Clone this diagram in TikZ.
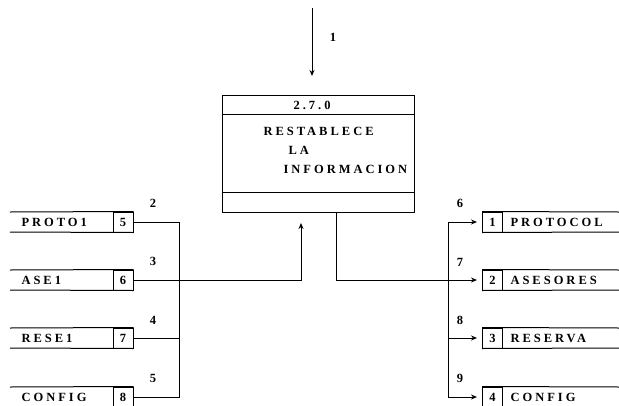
\documentclass[tikz,border=0pt]{standalone}
\usepackage{fontspec}
\newfontfamily\dfdfont[LetterSpace=24]{Liberation Serif}
\newfontfamily\lblfont{Liberation Serif}
\usetikzlibrary{arrows.meta}
\begin{document}
\begin{tikzpicture}[x=1pt,y=-1pt,line width=1pt,
  txt/.style={font=\dfdfont\bfseries\fontsize{12.5}{14}\selectfont,inner sep=0pt},
  lbl/.style={font=\lblfont\bfseries\fontsize{12.5}{14}\selectfont,inner sep=0pt},
  numbox/.style={draw,minimum width=20pt,minimum height=20pt,inner sep=0pt,lbl},
  arr/.style={-{Stealth[length=6pt,width=5pt]}}]
\useasboundingbox (0,0) rectangle (619,405);

% process
\node[draw,minimum width=192pt,minimum height=117pt,inner sep=0pt] (proc) at (318,153.5) {};
\draw ([yshift=-20pt]proc.north west) -- ([yshift=-20pt]proc.north east);
\draw ([yshift=20pt]proc.south west) -- ([yshift=20pt]proc.south east);
\node[txt] (pid) at (312,105) {2.7.0};
\node[txt,anchor=west] (pl1) at (263,131) {RESTABLECE};
\node[txt,anchor=west] (pl2) at (288,150) {LA};
\node[txt,anchor=west] (pl3) at (283,169) {INFORMACION};

% input from top
\coordinate (topin) at (312,8);
\coordinate (toptip) at (312,76);
\draw[arr] (topin) -- (toptip);
\node[lbl] (f1) at (333,37) {1};

% left stores
\foreach \n/\t/\y in {5/PROTO1/222,6/ASE1/280,7/RESE1/338,8/CONFIG/397}{
  \node[numbox] (L\n) at (123,\y) {\n};
  \draw (10,\y-10) -- (L\n.north east);
  \draw (10,\y+10) -- (L\n.south east);
  \node[txt,anchor=west] (LT\n) at (21,\y) {\t};
}
\coordinate (lbus) at (179,0);
\draw (L5.east) -- (L5.east -| lbus) -- (L8.east -| lbus) -- (L8.east);
\draw (L7.east) -- (L7.east -| lbus);
\coordinate (intip) at (301,223);
\draw[arr] (L6.east) -| (intip);
\node[lbl] (f2) at (153,203) {2};
\node[lbl] (f3) at (153,261) {3};
\node[lbl] (f4) at (153,320) {4};
\node[lbl] (f5) at (153,378) {5};

% right stores
\foreach \n/\t/\y in {1/PROTOCOL/222,2/ASESORES/280,3/RESERVA/338,4/CONFIG/397}{
  \node[numbox] (R\n) at (492.5,\y) {\n};
  \draw (R\n.north west) -- (619,\y-10);
  \draw (R\n.south west) -- (619,\y+10);
  \node[txt,anchor=west] (RT\n) at (510,\y) {\t};
}
\coordinate (rbus) at (448,0);
\coordinate (out) at ([xshift=18pt]proc.south);
\draw[arr,shorten >=5pt] (out) |- (R2.west);
\draw (R1.west -| rbus) -- (R4.west -| rbus);
\draw[arr,shorten >=5pt] (R1.west -| rbus) -- (R1.west);
\draw[arr,shorten >=5pt] (R3.west -| rbus) -- (R3.west);
\draw[arr,shorten >=5pt] (R4.west -| rbus) -- (R4.west);
\node[lbl] (f6) at (460,203) {6};
\node[lbl] (f7) at (460,262) {7};
\node[lbl] (f8) at (460,320) {8};
\node[lbl] (f9) at (460,378) {9};
\end{tikzpicture}
\end{document}
